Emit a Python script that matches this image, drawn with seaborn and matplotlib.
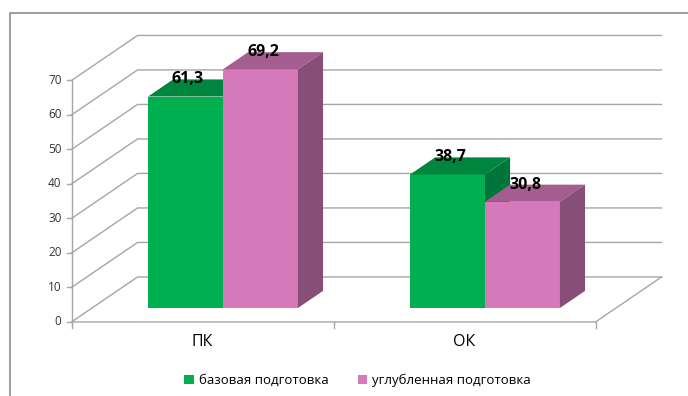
import matplotlib
matplotlib.use("Agg")
import matplotlib.pyplot as plt
from matplotlib.patches import Polygon
from matplotlib.lines import Line2D
import seaborn as sns
import pandas as pd

categories = ["ПК", "ОК"]
series_names = ["базовая подготовка", "углубленная подготовка"]
base_values = [61.3, 38.7]
deep_values = [69.2, 30.8]
value_labels_base = ["61,3", "38,7"]
value_labels_deep = ["69,2", "30,8"]
y_ticks = [0, 10, 20, 30, 40, 50, 60, 70]

front_colors = ["#00B050", "#D579BA"]
top_colors = ["#00853E", "#A35D90"]
side_colors = ["#00753A", "#874E78"]
grid_color = "#A6A6A6"

plt.rcParams["font.family"] = ["Open Sans", "DejaVu Sans"]

df = pd.DataFrame({
    "cat": categories * 2,
    "val": base_values + deep_values,
    "grp": [series_names[0]] * 2 + [series_names[1]] * 2,
})

fig = plt.figure(figsize=(6.88, 3.96), dpi=100)
ax = fig.add_axes([0, 0, 1, 1])

sns.barplot(data=df, x="cat", y="val", hue="grp", order=categories,
            hue_order=series_names, palette=front_colors, width=0.572,
            saturation=1, ax=ax, legend=True, err_kws={"linewidth": 0})

# pixel-based limits: category unit = 262 px, value unit = 3.45 px
ax.set_xlim(-223 / 262, (688 - 223) / 262)
ax.set_ylim((308 - 396) / 3.45, 308 / 3.45)
ax.axis("off")

DX = 66 / 262      # full depth shift in x (data units)
DY = 45 / 3.45     # full depth shift in y (data units)
F_BAR0, F_BAR1 = 0.31, 0.69


def proj(x, y, f):
    return (x + (f - F_BAR0) * DX, y + (f - F_BAR0) * DY)


xL, xR = -0.5, 1.5
ymax = y_ticks[-1]

# walls / grid
for v in y_ticks:
    a = proj(xL, v, 0); b = proj(xL, v, 1); c = proj(xR, v, 1)
    ax.add_line(Line2D([a[0], b[0], c[0]], [a[1], b[1], c[1]],
                       color=grid_color, lw=1.0, zorder=1))
# front y axis
a = proj(xL, 0, 0); b = proj(xL, ymax, 0)
ax.add_line(Line2D([a[0], b[0]], [a[1], b[1]], color=grid_color, lw=1.0, zorder=1))
tick_dx = 5 / 262
for v in y_ticks:
    p = proj(xL, v, 0)
    ax.add_line(Line2D([p[0] - tick_dx, p[0]], [p[1], p[1]], color=grid_color, lw=1.0, zorder=1))
    ax.text(p[0] - 10 / 262, p[1], str(v), ha="right", va="center",
            fontsize=8.5, color="#333333")
# floor
a = proj(xL, 0, 0); b = proj(xR, 0, 0); c = proj(xR, 0, 1)
ax.add_line(Line2D([a[0], b[0], c[0]], [a[1], b[1], c[1]], color=grid_color, lw=1.0, zorder=1))
for xt in [xL, 0.5, xR]:
    p = proj(xt, 0, 0)
    ax.add_line(Line2D([p[0], p[0]], [p[1], p[1] - 6 / 3.45], color=grid_color, lw=1.0, zorder=1))

# category labels
for i, c in enumerate(categories):
    p = proj(i, 0, 0)
    ax.text(p[0], p[1] - 20 / 3.45, c, ha="center", va="center", fontsize=11.5, color="#000000")

# 3D faces for bars
labels = [value_labels_base, value_labels_deep]
bars = [p for p in ax.patches if p.get_height() > 0]
for p in bars:
    fc = p.get_facecolor()
    hex_fc = matplotlib.colors.to_hex(fc).upper()
    s = 0 if hex_fc == front_colors[0].upper() else 1
    p.set_zorder(2 + s)
    x0 = p.get_x(); w = p.get_width(); h = p.get_height()
    d = F_BAR1 - F_BAR0
    ddx, ddy = d * DX, d * DY
    top = Polygon([(x0, h), (x0 + w, h), (x0 + w + ddx, h + ddy), (x0 + ddx, h + ddy)],
                  closed=True, facecolor=top_colors[s], edgecolor="none", zorder=2.1 + s)
    side = Polygon([(x0 + w, 0), (x0 + w + ddx, ddy), (x0 + w + ddx, h + ddy), (x0 + w, h)],
                   closed=True, facecolor=side_colors[s], edgecolor="none", zorder=2.1 + s)
    ax.add_patch(top); ax.add_patch(side)
    ci = int(round(x0 + w / 2 + (0.143 if s == 0 else -0.143)))
    ax.text(x0 + w / 2 + 0.1 * ddx, h + ddy, labels[s][ci], ha="center", va="center",
            fontsize=11.5, fontweight="bold", color="#000000", zorder=10)

sns.move_legend(ax, "center", bbox_to_anchor=(0.52, 0.04), ncol=2, frameon=False,
                title=None, handlelength=0.7, handleheight=0.7, handletextpad=0.4,
                columnspacing=2.2, fontsize=9.5)

# outer chart frame
fig.add_artist(Line2D([10 / 688, 10 / 688, 1], [0, 1 - 13 / 396, 1 - 13 / 396],
                      transform=fig.transFigure, color="#8C8C8C", lw=1.2))

fig.savefig("out.png", dpi=100)
